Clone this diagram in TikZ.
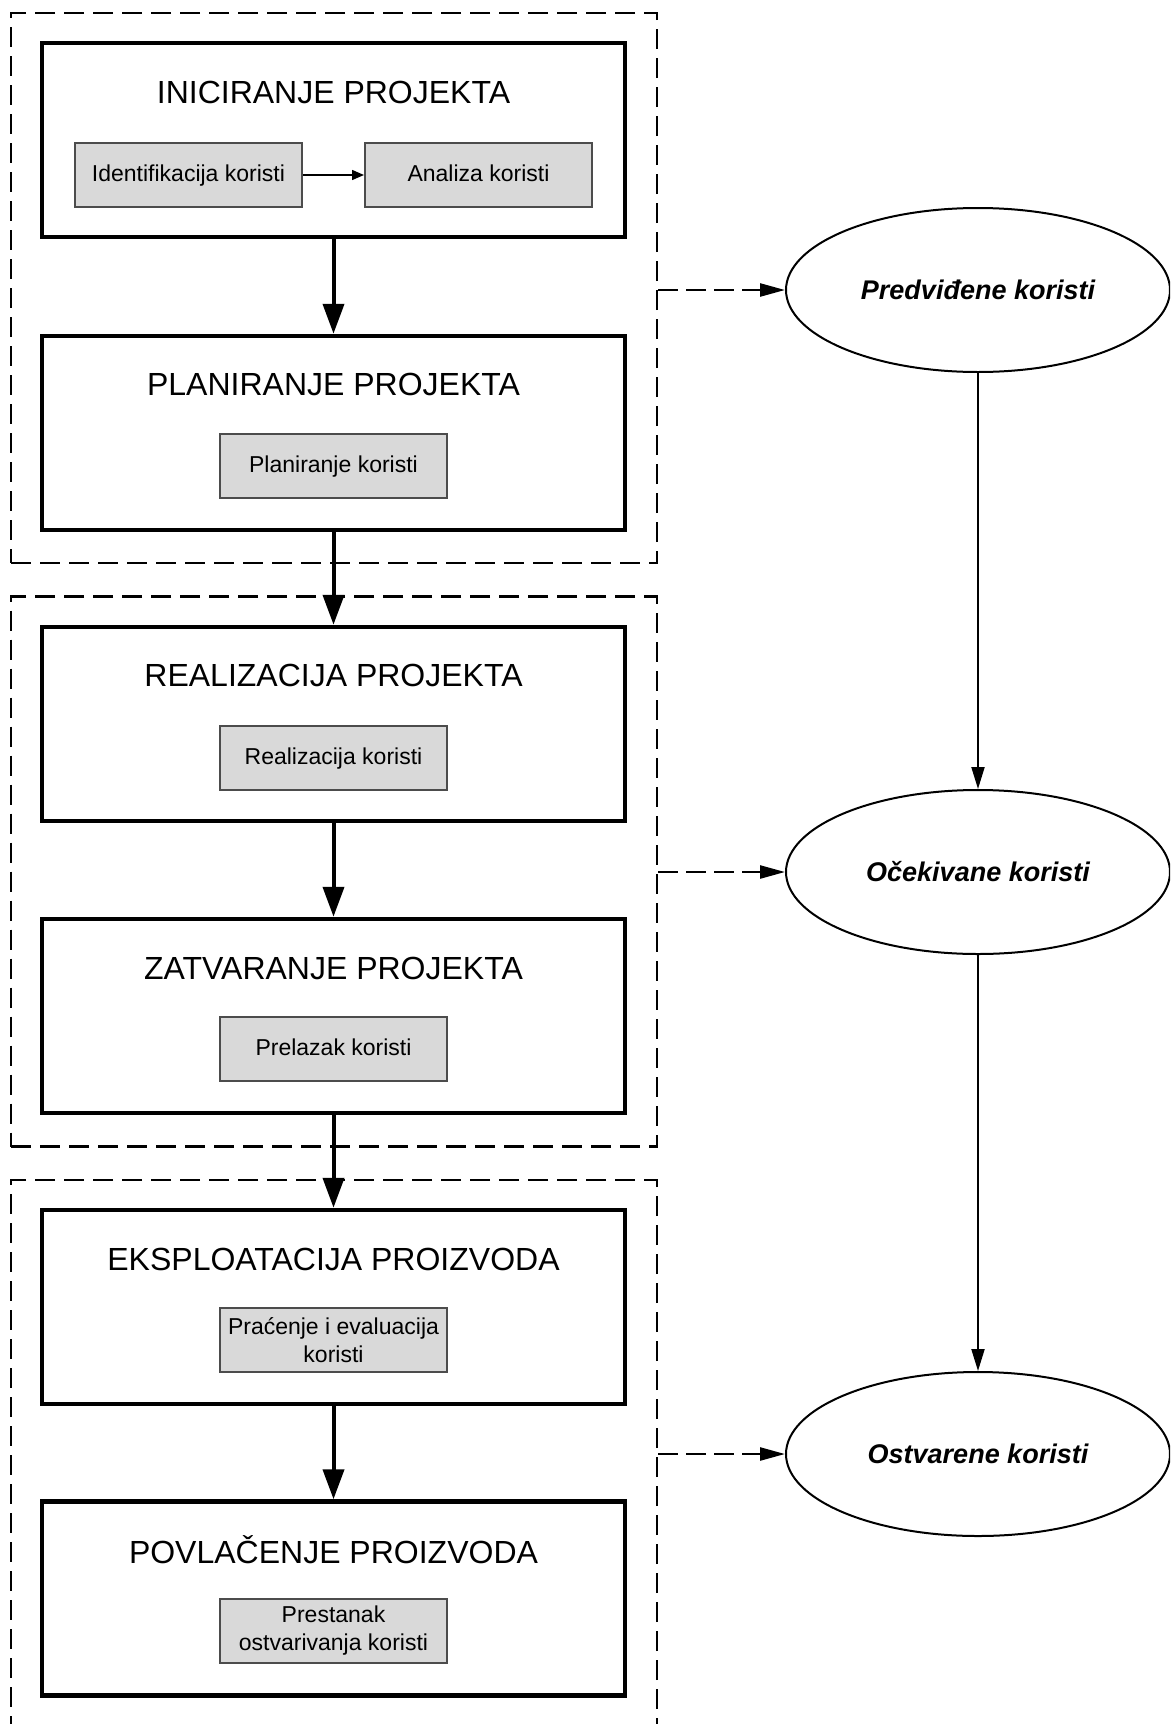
\documentclass[tikz,border=0pt]{standalone}
\usepackage{fontspec}
\setmainfont{Liberation Sans}
\usetikzlibrary{arrows.meta}
\usetikzlibrary{shapes.geometric}
\usetikzlibrary{positioning}

\begin{document}
\begin{tikzpicture}[x=1pt,y=-1pt,
  phase/.style={draw,black,line width=4.5pt,minimum width=583pt,minimum height=194pt,inner sep=0pt},
  phasetitle/.style={inner sep=0pt,font=\fontsize{32}{36}\selectfont},
  task/.style={draw=black!70,fill=black!15,line width=2pt,minimum width=227pt,minimum height=64pt,inner sep=2pt,align=center,font=\fontsize{23}{28}\selectfont},
  oneline/.style={text height=17pt,text depth=5pt},
  group/.style={draw,line width=2.5pt,dash pattern=on 20pt off 9pt,minimum width=646pt,minimum height=550pt,inner sep=0pt},
  benefit/.style={draw,ellipse,line width=2pt,minimum width=384pt,minimum height=164pt,inner sep=0pt,font=\fontsize{27}{30}\selectfont\bfseries\itshape}]
\def\l{30pt}
\def\w{21pt}
\useasboundingbox (0,0) rectangle (1170,1724);
\clip (0,0) rectangle (1170,1724);
% dashed groups
\node [group, name=g1] at (334,288){};
\node [group, name=g2] at (334,871.5){};
\node [group, name=g3] at (334,1455){};
% phases
\node [phase, name=p1] at (333.5,140){};
\node [phase, name=p2] at (333.5,433){};
\node [phase, name=p3] at (333.5,724){};
\node [phase, name=p4] at (333.5,1016){};
\node [phase, name=p5] at (333.5,1307){};
\node [phase, name=p6] at (333.5,1598.5){};
\node [phasetitle, name=t1] at (333.5,92){INICIRANJE PROJEKTA};
\node [phasetitle, name=t2] at (333.5,384){PLANIRANJE PROJEKTA};
\node [phasetitle, name=t3] at (333.5,675){REALIZACIJA PROJEKTA};
\node [phasetitle, name=t4] at (333.5,968){ZATVARANJE PROJEKTA};
\node [phasetitle, name=t5] at (333.5,1259){EKSPLOATACIJA PROIZVODA};
\node [phasetitle, name=t6] at (333.5,1550){POVLAČENJE PROIZVODA};
% tasks
\node [task, oneline, name=s1a] at (188.5,175){Identifikacija koristi};
\node [task, oneline, name=s1b] at (478.5,175){Analiza koristi};
\node [task, oneline, name=s2] at (333.5,466){Planiranje koristi};
\node [task, oneline, name=s3] at (333.5,758){Realizacija koristi};
\node [task, oneline, name=s4] at (333.5,1049){Prelazak koristi};
\node [task, name=s5] at (333.5,1340){Praćenje i evaluacija\\koristi};
\node [task, name=s6] at (333.5,1631){Prestanak\\ostvarivanja koristi};
% benefits
\node [benefit, name=e1] at (978,290){Predviđene koristi};
\node [benefit, name=e2] at (978,872){Očekivane koristi};
\node [benefit, name=e3] at (978,1454){Ostvarene koristi};
% arrows
\draw [line width=1.5pt,-{Triangle[length=12pt, width=10pt]}](s1a) -- (s1b);
\draw [line width=4pt,-{Triangle[length=\l, width=\w]}](p1) -- (p2);
\draw [line width=4pt,-{Triangle[length=\l, width=\w]}](p2) -- (p3);
\draw [line width=4pt,-{Triangle[length=\l, width=\w]}](p3) -- (p4);
\draw [line width=4pt,-{Triangle[length=\l, width=\w]}](p4) -- (p5);
\draw [line width=4pt,-{Triangle[length=\l, width=\w]}](p5) -- (p6);
\draw [line width=2pt,-{Triangle[length=22pt, width=13pt]}](e1) -- (e2);
\draw [line width=2pt,-{Triangle[length=22pt, width=13pt]}](e2) -- (e3);
\draw [line width=2.5pt,dash pattern=on 20pt off 8pt,-{Triangle[length=25pt, width=13pt]}](e1.west -| g1.east) -- (e1.west);
\draw [line width=2.5pt,dash pattern=on 20pt off 8pt,-{Triangle[length=25pt, width=13pt]}](e2.west -| g2.east) -- (e2.west);
\draw [line width=2.5pt,dash pattern=on 20pt off 8pt,-{Triangle[length=25pt, width=13pt]}](e3.west -| g3.east) -- (e3.west);
\end{tikzpicture}
\end{document}
